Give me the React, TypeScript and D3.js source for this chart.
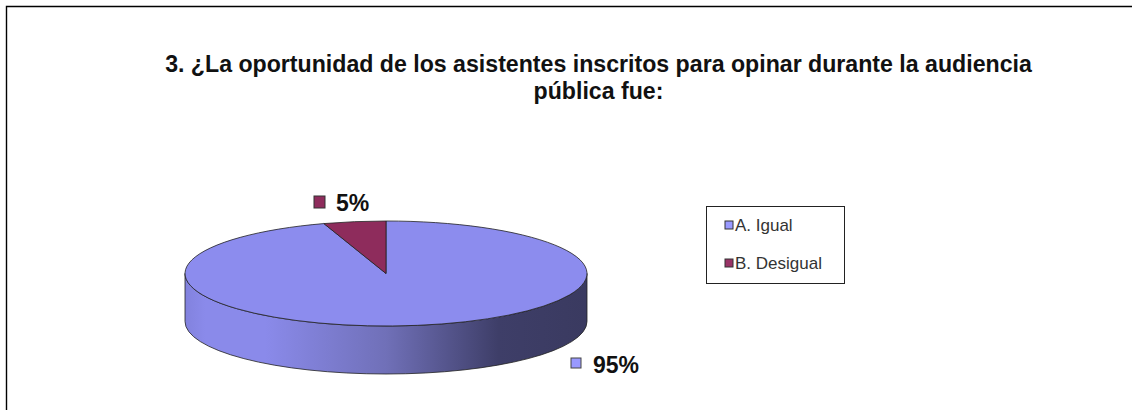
import React from 'react';
import * as d3 from 'd3';

const categories = ['A. Igual', 'B. Desigual'];
const values = [95, 5];
const valueLabels = ['95%', '5%'];
const colors = ['#8c8cee', '#8e2c5c'];
const legendColors = ['#9999ff', '#993366'];
const titleLines = [
  '3. ¿La oportunidad de los asistentes inscritos para opinar durante la audiencia',
  'pública fue:',
];

const width = 1132;
const height = 410;
const cx = 386;
const cy = 273.5;
const rx = 201;
const ry = 52.5;
const depth = 48;
const font = '"Liberation Sans", Arial, sans-serif';

export default function App() {
  // starts at 12 o'clock, A. Igual goes clockwise and B. Desigual closes the circle
  const slices = d3.pie<number>().sort(null)(values);
  const arc = d3.arc<d3.PieArcDatum<number>>().innerRadius(0).outerRadius(rx);
  const side = `M${cx - rx},${cy}V${cy + depth}A${rx},${ry} 0 0 0 ${cx + rx},${cy + depth}V${cy}A${rx},${ry} 0 0 1 ${cx - rx},${cy}Z`;
  const legendY = d3.scalePoint<string>().domain(categories).range([225, 263]);

  return (
    <svg
      width={width}
      height={height}
      style={{ position: 'absolute', left: 0, top: 0, display: 'block', background: '#fff' }}
    >
      <defs>
        <linearGradient id="side" gradientUnits="userSpaceOnUse" x1={cx - rx} x2={cx + rx} y1={0} y2={0}>
          <stop offset="0" stopColor="#8282de" />
          <stop offset="0.05" stopColor="#8a8aea" />
          <stop offset="0.2" stopColor="#8a8aea" />
          <stop offset="0.5" stopColor="#7070b8" />
          <stop offset="0.78" stopColor="#3e3e68" />
          <stop offset="1" stopColor="#3a3a60" />
        </linearGradient>
      </defs>

      <path d={`M6.5,${height}V6.5H${width}`} fill="none" stroke="#000" strokeWidth={1.4} />

      {titleLines.map((t, i) => (
        <text
          key={i}
          x={598.5}
          y={72 + i * 27}
          textAnchor="middle"
          fontFamily={font}
          fontWeight="bold"
          fontSize={23.15}
          fill="#111"
        >
          {t}
        </text>
      ))}

      <path d={side} fill="url(#side)" stroke="#222" strokeWidth={0.8} />
      <g transform={`translate(${cx},${cy}) scale(1,${ry / rx})`}>
        {slices.map((s, i) => (
          <path
            key={i}
            d={arc(s) ?? ''}
            fill={colors[i]}
            stroke="#222"
            strokeWidth={0.8}
            vectorEffect="non-scaling-stroke"
          />
        ))}
      </g>

      {/* data labels */}
      <g fontFamily={font} fontWeight="bold" fontSize={23} fill="#111">
        <rect x={571} y={358} width={10} height={10} fill={legendColors[0]} stroke="#444" />
        <text x={593} y={373}>{valueLabels[0]}</text>
        <rect x={314} y={196} width={11} height={12} fill={colors[1]} stroke="#333" />
        <text x={336} y={211}>{valueLabels[1]}</text>
      </g>

      {/* legend */}
      <rect x={706.5} y={206.5} width={138} height={77} fill="#fff" stroke="#222" />
      {categories.map((c, i) => (
        <g key={c}>
          <rect x={725} y={(legendY(c) ?? 0) - 4} width={8} height={8} fill={legendColors[i]} stroke="#333" />
          <text x={735} y={(legendY(c) ?? 0) + 6} fontFamily={font} fontSize={17} fill="#333">
            {c}
          </text>
        </g>
      ))}
    </svg>
  );
}
